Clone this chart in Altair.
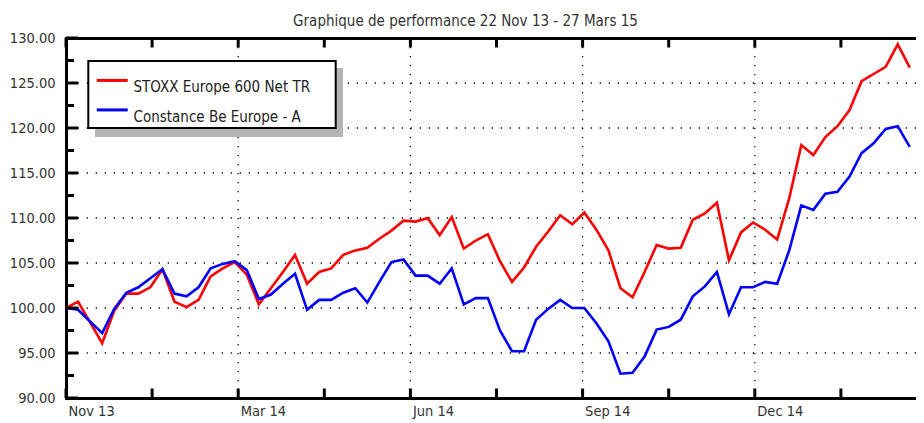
import altair as alt
import pandas as pd

title_text = "Graphique de performance 22 Nov 13 - 27 Mars 15"
series_names = ["STOXX Europe 600 Net TR", "Constance Be Europe - A"]
series_colors = ["#ff0000", "#0000ff"]
start_date = "2013-11-22"
n_weeks = 71

stoxx = [100.0, 100.7, 98.4, 96.1, 99.7, 101.6, 101.6, 102.3, 104.3, 100.7,
         100.1, 100.9, 103.5, 104.4, 105.1, 103.7, 100.4, 102.2, 104.0, 105.9,
         102.7, 104.0, 104.4, 105.9, 106.4, 106.7, 107.7, 108.6, 109.7, 109.6,
         110.0, 108.1, 110.1, 106.6, 107.5, 108.2, 105.2, 102.9, 104.5, 106.8,
         108.5, 110.3, 109.3, 110.6, 108.7, 106.4, 102.2, 101.2, 104.0, 107.0,
         106.6, 106.7, 109.8, 110.5, 111.7, 105.3, 108.4, 109.5, 108.7, 107.6,
         112.2, 118.1, 117.0, 119.0, 120.2, 122.0, 125.2, 126.0, 126.8, 129.3, 126.7]

constance = [100.0, 99.8, 98.5, 97.2, 99.9, 101.7, 102.3, 103.3, 104.3, 101.6,
             101.3, 102.3, 104.4, 104.9, 105.2, 104.2, 101.0, 101.5, 102.7, 103.8,
             99.8, 100.9, 100.9, 101.7, 102.2, 100.6, 102.9, 105.1, 105.4, 103.6,
             103.6, 102.7, 104.4, 100.4, 101.1, 101.1, 97.5, 95.2, 95.2, 98.7,
             99.9, 100.9, 100.0, 100.0, 98.3, 96.3, 92.7, 92.8, 94.6, 97.6,
             97.9, 98.7, 101.3, 102.4, 104.0, 99.3, 102.3, 102.3, 102.9, 102.7,
             106.4, 111.4, 110.9, 112.7, 112.9, 114.6, 117.2, 118.3, 119.9, 120.2, 117.9]

y_major = [90, 95, 100, 105, 110, 115, 120, 125, 130]
y_minor = [92.5, 97.5, 102.5, 107.5, 112.5, 117.5, 122.5, 127.5]
y_grid = [95, 100, 105, 110, 115, 120, 125]
tick_labels = ["Nov 13", "Mar 14", "Jun 14", "Sep 14", "Dec 14"]
tick_step_days = 50
n_ticks = 10

FONT = "'DejaVu Sans Condensed', 'Noto Sans', sans-serif"
TXT = "#333333"
FS = 14.5
FS_BIG = 15

W = 850
H = 360

start = pd.Timestamp(start_date)
dates = [(start + pd.Timedelta(days=7 * i)).strftime("%Y-%m-%d") for i in range(n_weeks)]
df = pd.DataFrame({
    "date": dates + dates,
    "value": stoxx + constance,
    "serie": [series_names[0]] * n_weeks + [series_names[1]] * n_weeks,
})

tick_ts = [start + pd.Timedelta(days=tick_step_days * k) for k in range(n_ticks)]
ticks_df = pd.DataFrame({"date": [t.strftime("%Y-%m-%d") for t in tick_ts]})
label_ts = tick_ts[::2]
vgrid_df = pd.DataFrame({"date": [t.strftime("%Y-%m-%d") for t in label_ts[1:]]})


def dt(ts):
    return alt.DateTime(year=ts.year, month=ts.month, date=ts.day,
                        hours=ts.hour, minutes=ts.minute, utc=True)


label_values = [dt(t) for t in label_ts]
label_expr = ""
for t, lab in zip(label_ts, tick_labels):
    label_expr += f"datum.value == {int(t.value // 10**6)} ? '{lab}' : "
label_expr += "''"

# 500 days span 861 px in the original; the visible part is W px wide
end_ts = (start + pd.Timedelta(days=W * 500 / 861)).floor("min")
xscale = alt.Scale(type="utc", domain=[dt(start), dt(end_ts)], nice=False)
yscale = alt.Scale(domain=[90, 130], nice=False, zero=False)

hgrid_df = pd.DataFrame({"value": y_grid})
ymaj_df = pd.DataFrame({"value": y_major})
ymin_df = pd.DataFrame({"value": y_minor})
decor = pd.DataFrame({"k": [0]})

dash = [1.3, 7.7]

hgrid = alt.Chart(hgrid_df).mark_rule(color="#111", strokeWidth=1.3, strokeDash=dash).encode(
    y=alt.Y("value:Q", scale=yscale, axis=None))
vgrid = alt.Chart(vgrid_df).mark_rule(color="#111", strokeWidth=1.3, strokeDash=dash).encode(
    x=alt.X("date:T", scale=xscale, axis=None))

lines = alt.Chart(df).mark_line(strokeWidth=2.6, clip=True).encode(
    x=alt.X("date:T", scale=xscale, axis=alt.Axis(
        values=label_values, labelExpr=label_expr, title=None, grid=False, ticks=False, tickSize=0,
        domain=True, domainColor="black", domainWidth=3, domainCap="square",
        labelAlign="left", labelBaseline="top", labelPadding=6, labelOffset=2,
        labelFont=FONT, labelFontSize=FS, labelColor=TXT, orient="bottom")),
    y=alt.Y("value:Q", scale=yscale, axis=alt.Axis(
        values=y_major, format=".2f", title=None, grid=False, ticks=False, tickSize=0,
        domain=True, domainColor="black", domainWidth=3, domainCap="square",
        labelPadding=11, labelFont=FONT, labelFontSize=FS, labelColor=TXT, orient="left")),
    color=alt.Color("serie:N", scale=alt.Scale(domain=series_names, range=series_colors),
                    legend=alt.Legend(orient="none", legendX=36.75, legendY=39.5, title=None,
                                      direction="vertical", padding=0,
                                      symbolType="M-2,-0.85H2", symbolSize=240, symbolStrokeWidth=3,
                                      labelFont=FONT, labelFontSize=FS_BIG, labelColor="#222",
                                      labelOffset=11.75, rowPadding=7.5, labelBaseline="middle",
                                      labelLimit=400)),
)

shadow = alt.Chart(decor).mark_rect(fill="#b5b5b5").encode(
    x=alt.value(29), x2=alt.value(277), y=alt.value(30), y2=alt.value(99))
box = alt.Chart(decor).mark_rect(fill="white", stroke="black", strokeWidth=2).encode(
    x=alt.value(22.3), x2=alt.value(269.7), y=alt.value(23), y2=alt.value(90))

xt_bottom = alt.Chart(ticks_df).mark_rule(color="black", strokeWidth=3).encode(
    x=alt.X("date:T", scale=xscale, axis=None), y=alt.value(H - 9.5), y2=alt.value(H))
xt_top = alt.Chart(ticks_df).mark_rule(color="black", strokeWidth=3).encode(
    x=alt.X("date:T", scale=xscale, axis=alt.Axis(
        orient="top", labels=False, ticks=False, tickSize=0, grid=False, title=None,
        domain=True, domainColor="black", domainWidth=3, domainCap="square")),
    y=alt.value(0), y2=alt.value(9.5))

yl_maj = alt.Chart(ymaj_df).mark_rule(color="black", strokeWidth=3).encode(
    y=alt.Y("value:Q", scale=yscale, axis=None), x=alt.value(0), x2=alt.value(12))
yl_min = alt.Chart(ymin_df).mark_rule(color="black", strokeWidth=3).encode(
    y=alt.Y("value:Q", scale=yscale, axis=None), x=alt.value(0), x2=alt.value(8))

chart = alt.layer(
    hgrid, vgrid, lines, shadow, box, xt_bottom, xt_top, yl_maj, yl_min
).resolve_axis(x="independent", y="independent").properties(
    width=W, height=H,
    padding={"left": 58, "top": 30, "right": 0, "bottom": 21},
    autosize=alt.AutoSizeParams(type="none"),
    title=alt.TitleParams(text=title_text, font=FONT, fontSize=FS_BIG, fontWeight="normal",
                          color=TXT, anchor="middle", dx=-25.5, offset=1),
).configure_view(stroke=None).configure(background="white")

chart.save("out.html", embed_options={"renderer": "svg", "actions": False})
